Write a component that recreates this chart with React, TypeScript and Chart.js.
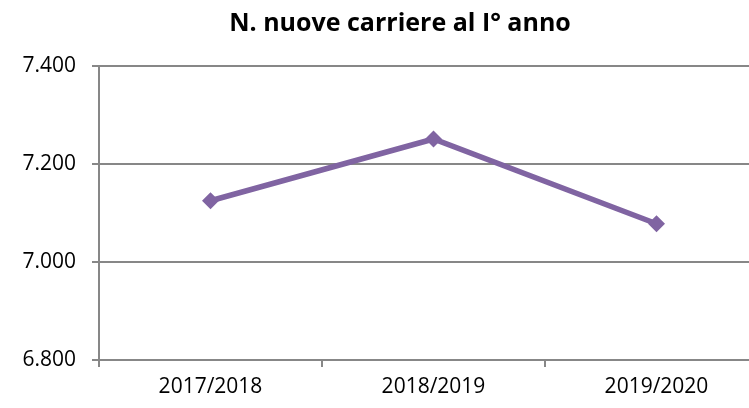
import React, { useEffect, useRef } from "react";
import { Chart, registerables } from "chart.js";

Chart.register(...registerables);

const categories = ["2017/2018", "2018/2019", "2019/2020"];
const values = [7125, 7251, 7078];
const yTicks = [6800, 7000, 7200, 7400];
const titleText = "N. nuove carriere al I° anno";

const FONT = "'Open Sans', sans-serif";
const GRID = "#878787";

function fmt(v: number) {
  const s = String(Math.round(v));
  return s.replace(/\B(?=(\d{3})+(?!\d))/g, ".");
}

export default function App() {
  const ref = useRef<HTMLCanvasElement | null>(null);
  useEffect(() => {
    if (!ref.current) return;
    const chart = new Chart(ref.current, {
      type: "line",
      data: {
        labels: categories,
        datasets: [
          {
            data: values,
            borderColor: "#8064A2",
            backgroundColor: "#8064A2",
            borderWidth: 5.5,
            pointStyle: "rectRot",
            pointRadius: 8.5,
            pointBorderWidth: 0,
            tension: 0,
            yAxisID: "y",
          },
        ],
      },
      options: {
        responsive: false,
        animation: false,
        layout: { padding: 0 },
        plugins: {
          legend: { display: false },
          tooltip: { enabled: false },
          title: {
            display: true,
            text: titleText,
            color: "#000",
            font: { family: FONT, size: 25, weight: "bold" },
            padding: { top: 9, bottom: 27 },
          },
        },
        scales: {
          x: {
            type: "category",
            offset: true,
            grid: {
              display: true,
              offset: true,
              drawOnChartArea: false,
              drawTicks: true,
              tickLength: 7,
              color: GRID,
              lineWidth: 2,
            },
            border: { display: true, color: GRID, width: 2 },
            ticks: {
              color: "#000",
              font: { family: FONT, size: 21 },
              padding: 7,
              maxRotation: 0,
            },
            afterFit: (s: any) => {
              s.height = 48;
            },
          },
          y: {
            type: "linear",
            position: "left",
            min: 6800,
            max: 7400,
            afterBuildTicks: (s: any) => {
              s.ticks = yTicks.map((v) => ({ value: v }));
            },
            grid: {
              color: GRID,
              lineWidth: 2,
              drawTicks: true,
              tickLength: 7,
            },
            border: { display: true, color: GRID, width: 2 },
            ticks: {
              color: "#000",
              font: { family: FONT, size: 21 },
              padding: 16,
              callback: (v: any) => fmt(Number(v)),
            },
            afterFit: (s: any) => {
              s.width = 99;
            },
          },
          yRight: {
            type: "linear",
            position: "right",
            display: true,
            grid: { display: false, drawTicks: false },
            border: { display: false },
            ticks: { display: false },
            afterFit: (s: any) => {
              s.width = 32;
            },
          },
        },
      },
    });
    return () => chart.destroy();
  }, []);
  return (
    <div
      style={{
        position: "fixed",
        left: 0,
        top: 0,
        width: 749,
        height: 408,
        overflow: "hidden",
        background: "#fff",
      }}
    >
      <canvas ref={ref} width={800} height={408} style={{ width: 800, height: 408, display: "block" }} />
    </div>
  );
}
